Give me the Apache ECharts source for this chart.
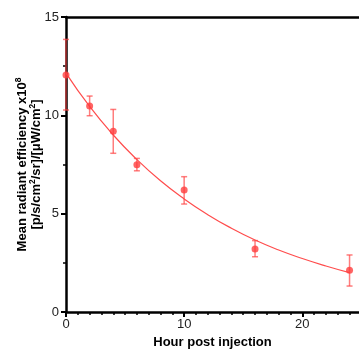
<!DOCTYPE html>
<html><head><meta charset="utf-8">
<script src="https://cdn.jsdelivr.net/npm/echarts@6/dist/echarts.min.js"></script>
<style>html,body{margin:0;padding:0;background:#fff}#c{width:359px;height:349px}</style>
</head><body><div id="c"></div>
<script>
const hours=[0,2,4,6,10,16,24];
const means=[12.05,10.47,9.19,7.49,6.2,3.2,2.12];
const errLow=[10.27,9.98,8.07,7.18,5.49,2.81,1.32];
const errHigh=[13.86,10.98,10.3,7.81,6.88,3.63,2.9];
const fitHours=[0,2,4,6,8,10,12,14,16,18,20,22,24];
const fitValues=[12.15,10.45,9.0,7.75,6.67,5.75,4.95,4.26,3.66,3.15,2.72,2.34,2.0];
const xMajorTicks=[0,10,20];
const xMinorTicks=[0,1,2,3,4,5,6,7,8,9,10,11,12,13,14,15,16,17,18,19,20,21,22,23,24];
const yTicks=[0,5,10,15];

const FONT='"Liberation Sans", Arial, sans-serif';
const chart=echarts.init(document.getElementById('c'),null,{renderer:'canvas'});
const axisLine={show:true,lineStyle:{color:'#000',width:2.5}};
const xCommon={type:'value',min:0,max:24.8,splitLine:{show:false}};
chart.setOption({
  animation:false,
  grid:{left:66,right:0,top:17,bottom:37,containLabel:false,outerBoundsMode:'none'},
  xAxis:[
    Object.assign({},xCommon,{position:'bottom',axisLine,
      axisTick:{show:true,customValues:xMajorTicks,length:5,lineStyle:{color:'#000',width:2}},
      axisLabel:{show:true,customValues:xMajorTicks,margin:6,fontSize:13,color:'#222',fontFamily:FONT},
      name:'Hour post injection',nameLocation:'middle',nameGap:24,nameMoveOverlap:false,
      nameTextStyle:{fontSize:13,fontWeight:'bold',color:'#000',fontFamily:FONT}}),
    Object.assign({},xCommon,{position:'bottom',axisLine:{show:false},
      axisTick:{show:true,customValues:xMinorTicks,length:3,lineStyle:{color:'#000',width:1.5}},
      axisLabel:{show:false}}),
    Object.assign({},xCommon,{position:'top',axisLine,axisTick:{show:false},axisLabel:{show:false}})
  ],
  yAxis:{type:'value',min:0,max:15,interval:5,position:'left',axisLine,
    axisTick:{show:true,length:5,lineStyle:{color:'#000',width:2}},
    minorTick:{show:true,splitNumber:2,length:3,lineStyle:{color:'#000',width:1.5}},
    splitLine:{show:false},
    axisLabel:{margin:7,fontSize:13,color:'#222',fontFamily:FONT},
    name:'{a|Mean radiant efficiency x10}{s|8}\n{a|[p/s/cm}{s|2}{a|/sr]/[μW/cm}{s|2}{a|]}',
    nameLocation:'middle',nameRotate:90,nameGap:23,nameMoveOverlap:false,
    nameTextStyle:{fontFamily:FONT,fontWeight:'bold',color:'#000',fontSize:13,
      rich:{a:{fontSize:13,fontWeight:'bold',fontFamily:FONT,color:'#000',lineHeight:14.5,verticalAlign:'bottom'},
            s:{fontSize:8.5,fontWeight:'bold',fontFamily:FONT,color:'#000',lineHeight:14.5,verticalAlign:'top'}}}
  },
  series:[
    {type:'line',xAxisIndex:0,data:fitHours.map((h,i)=>[h,fitValues[i]]),smooth:true,showSymbol:false,symbol:'none',
      lineStyle:{color:'#ff4d4d',width:1.2},z:3},
    {type:'custom',xAxisIndex:0,data:hours.map((h,i)=>[h,errLow[i],errHigh[i]]),clip:false,z:4,
      renderItem:function(params,api){
        const x=api.value(0),lo=api.value(1),hi=api.value(2);
        const p1=api.coord([x,hi]),p2=api.coord([x,lo]);
        const w=3;
        const style={stroke:'rgba(255,70,70,0.7)',lineWidth:1.5,fill:null};
        return {type:'group',children:[
          {type:'line',shape:{x1:p1[0],y1:p1[1],x2:p2[0],y2:p2[1]},style},
          {type:'line',shape:{x1:p1[0]-w,y1:p1[1],x2:p1[0]+w,y2:p1[1]},style},
          {type:'line',shape:{x1:p2[0]-w,y1:p2[1],x2:p2[0]+w,y2:p2[1]},style}
        ]};
      }},
    {type:'scatter',xAxisIndex:0,data:hours.map((h,i)=>[h,means[i]]),symbolSize:7,
      itemStyle:{color:'#ff3f3f'},z:5}
  ]
});
</script></body></html>
